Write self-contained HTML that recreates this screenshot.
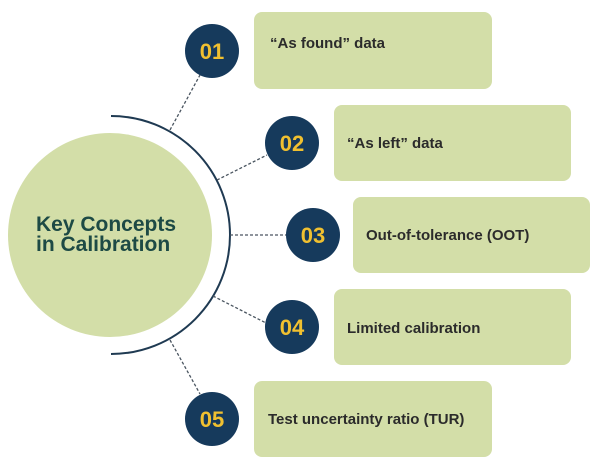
<!DOCTYPE html>
<html><head><style>
body{margin:0;background:#fff;}
svg{display:block;}
text{font-family:"Liberation Sans",sans-serif;}
</style></head><body>
<svg width="600" height="467" viewBox="0 0 600 467">
<g fill="#d3dea8">
<rect x="254" y="12" width="238" height="77" rx="8"/>
<rect x="334" y="105" width="237" height="76" rx="8"/>
<rect x="353" y="197" width="237" height="76" rx="8"/>
<rect x="334" y="289" width="237" height="76" rx="8"/>
<rect x="254" y="381" width="238" height="76" rx="8"/>
<circle cx="110" cy="235" r="102"/>
</g>
<path d="M111 116 A119 119 0 0 1 111 354" fill="none" stroke="#1f3a52" stroke-width="2"/>
<g stroke="#4a5560" stroke-width="1.3" stroke-dasharray="3,2">
<line x1="170" y1="130" x2="200" y2="75"/>
<line x1="217" y1="180" x2="267" y2="155"/>
<line x1="230" y1="235" x2="286" y2="235"/>
<line x1="213" y1="296" x2="266" y2="323"/>
<line x1="170" y1="340" x2="200" y2="394"/>
</g>
<g fill="#163a5c">
<circle cx="212" cy="51" r="27"/>
<circle cx="292" cy="143" r="27"/>
<circle cx="313" cy="235" r="27"/>
<circle cx="292" cy="327" r="27"/>
<circle cx="212" cy="419" r="27"/>
</g>
<g fill="#f0c030" font-size="22" font-weight="bold" text-anchor="middle">
<text x="212" y="59">01</text>
<text x="292" y="151">02</text>
<text x="313" y="243">03</text>
<text x="292" y="335">04</text>
<text x="212" y="427">05</text>
</g>
<g fill="#2b2b2b" font-size="15" font-weight="bold">
<text x="270" y="48">“As found” data</text>
<text x="347" y="148">“As left” data</text>
<text x="366" y="240">Out-of-tolerance (OOT)</text>
<text x="347" y="333">Limited calibration</text>
<text x="268" y="424">Test uncertainty ratio (TUR)</text>
</g>
<g fill="#1d4a45" font-size="21" font-weight="bold">
<text x="36" y="231">Key Concepts</text>
<text x="36" y="251">in Calibration</text>
</g>
</svg>
</body></html>
